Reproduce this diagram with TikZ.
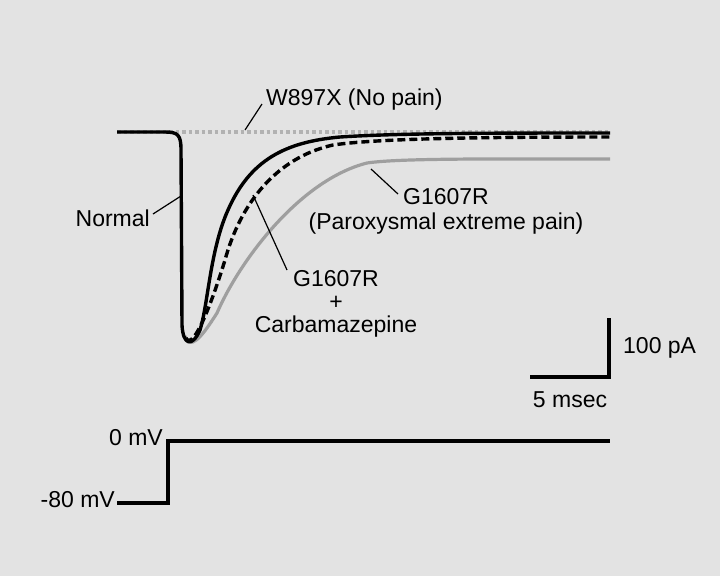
\documentclass[tikz,border=0pt]{standalone}
\usepackage{fontspec}
\setmainfont{Liberation Sans}
\definecolor{bg}{HTML}{E3E3E3}
\begin{document}
\begin{tikzpicture}[x=1pt,y=-1pt,
  lbl/.style={font=\fontsize{23}{26}\selectfont,inner sep=0pt},
  lead/.style={line width=1.2pt},
  trace/.style={line width=3.4pt,line join=round}]
\fill[bg] (0,0) rectangle (720,576);
\useasboundingbox (0,0) rectangle (720,576);
% baseline W897X
\draw[gray!60,line width=4.5pt,dash pattern=on 3.5pt off 3pt] (117,132) -- (610,132);
% gray G1607R
\draw[gray!75,line width=3.2pt] (185,336) .. controls (190,350) and (200,340) .. (217,313)
  .. controls (240,260) and (300,180) .. (367,163) .. controls (400,158) and (500,159) .. (610,159);
% dashed carbamazepine
\draw[trace,dash pattern=on 8pt off 4pt] (186,338) .. controls (192,350) and (208,315) .. (225,260)
  .. controls (240,205) and (275,158) .. (333,145) .. controls (380,138) and (500,137) .. (610,137);
% normal
\draw[trace] (117,132) -- (165,132) .. controls (178,132) and (181,135) .. (181,150)
  -- (182,325) .. controls (183,345) and (192,348) .. (200,330)
  .. controls (208,305) and (210,250) .. (228,210) .. controls (250,160) and (285,142) .. (340,137)
  .. controls (400,133) and (500,133) .. (610,133);
% labels
\node[lbl,anchor=west] (w) at (266,100) {W897X (No pain)};
\coordinate (wa) at (245,130);
\draw[lead] (wa) -- (262,104);
\node[lbl,anchor=east] (n) at (150,218) {Normal};
\coordinate (na) at (181,196);
\draw[lead] (153,214) -- (na);
\node[lbl] (g1) at (446,197) {G1607R};
\node[lbl] (g2) at (446,224) {(Paroxysmal extreme pain)};
\coordinate (ga) at (371,169);
\draw[lead] (ga) -- (398,194);
\node[lbl] (c1) at (336,279) {G1607R};
\node[lbl] (c2) at (336,303) {+};
\node[lbl] (c3) at (336,327) {Carbamazepine};
\coordinate (ca) at (253,195);
\draw[lead] (ca) -- (287,270);
% scale bar
\coordinate (s1) at (609,318); \coordinate (s2) at (609,377); \coordinate (s3) at (530,377);
\draw[line width=3.2pt,line join=miter] (s1) -- (s2) -- (s3);
\node[lbl,anchor=west] (pa) at (623,348) {100 pA};
\node[lbl] (ms) at (570,400) {5 msec};
% voltage
\coordinate (v0) at (117,503); \coordinate (v1) at (168,503); \coordinate (v2) at (168,441); \coordinate (v3) at (610,441);
\draw[line width=3.2pt,line join=miter] (v0) -- (v1) -- (v2) -- (v3);
\node[lbl,anchor=east] (z) at (163,438) {0 mV};
\node[lbl,anchor=east] (m) at (115,500) {-80 mV};
\end{tikzpicture}
\end{document}
